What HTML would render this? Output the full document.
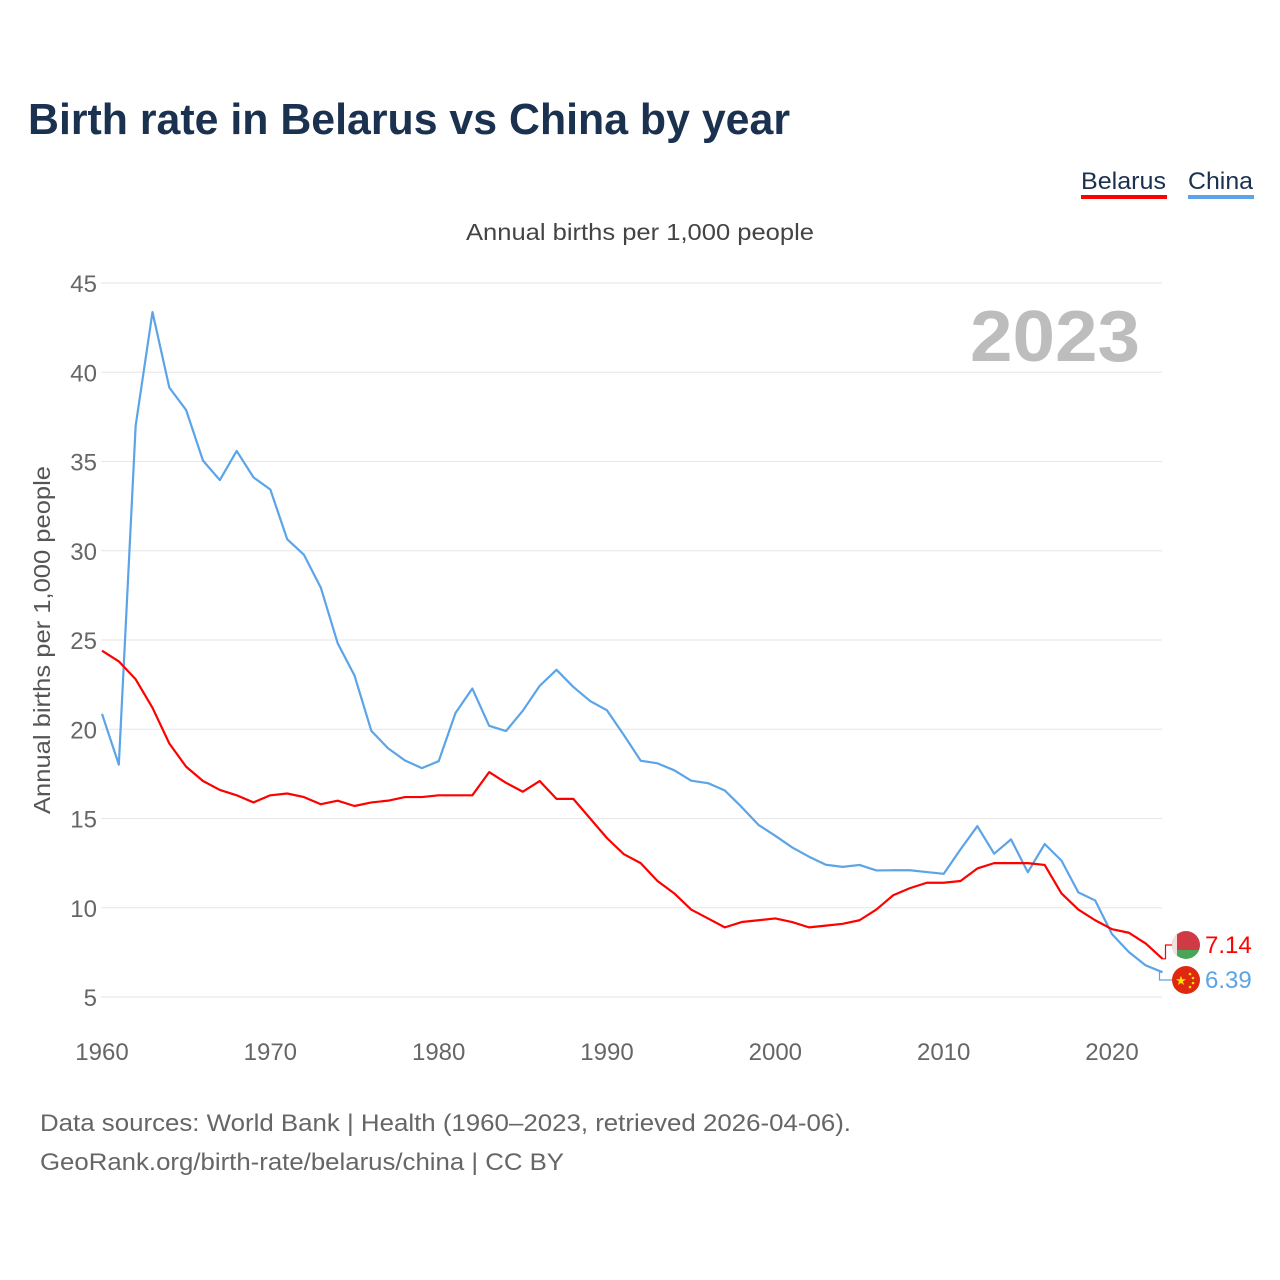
<!DOCTYPE html>
<html><head><meta charset="utf-8"><style>
html,body{margin:0;padding:0;background:#fff;width:1280px;height:1280px;overflow:hidden}
svg{display:block;font-family:"Liberation Sans",sans-serif}
</style></head><body>
<svg id="chart" width="1280" height="1280">
<text x="28" y="134" font-size="44" font-weight="bold" fill="#1a3150" textLength="762" lengthAdjust="spacingAndGlyphs">Birth rate in Belarus vs China by year</text>
<g>
<text x="1081" y="189" font-size="24" fill="#1a3150" textLength="85" lengthAdjust="spacingAndGlyphs">Belarus</text>
<rect x="1081" y="195" width="86" height="4" fill="#ff0000"/>
<text x="1188" y="189" font-size="24" fill="#1a3150" textLength="65" lengthAdjust="spacingAndGlyphs">China</text>
<rect x="1188" y="195" width="66" height="4" fill="#5ba4e8"/>
</g>
<text x="640" y="240" font-size="23" fill="#444" text-anchor="middle" textLength="348" lengthAdjust="spacingAndGlyphs">Annual births per 1,000 people</text>
<text x="1140" y="361" font-size="72" font-weight="bold" fill="#bdbdbd" text-anchor="end" textLength="170" lengthAdjust="spacingAndGlyphs">2023</text>
<text transform="translate(50,640) rotate(-90)" font-size="23" fill="#555" text-anchor="middle" textLength="348" lengthAdjust="spacingAndGlyphs">Annual births per 1,000 people</text>
<g id="grid"></g><g id="yticks"></g><g id="xticks"></g><g id="lines"></g><g id="ends"></g>
<text x="40" y="1131" font-size="24" fill="#666" textLength="811" lengthAdjust="spacingAndGlyphs">Data sources: World Bank | Health (1960–2023, retrieved 2026-04-06).</text>
<text x="40" y="1170" font-size="24" fill="#666" textLength="524" lengthAdjust="spacingAndGlyphs">GeoRank.org/birth-rate/belarus/china | CC BY</text>
</svg>
<script>
const years=[];for(let y=1960;y<=2023;y++)years.push(y);
const belarus=[24.4,23.8,22.8,21.2,19.2,17.9,17.1,16.6,16.3,15.9,16.3,16.4,16.2,15.8,16.0,15.7,15.9,16.0,16.2,16.2,16.3,16.3,16.3,17.6,17.0,16.5,17.1,16.1,16.1,15.0,13.9,13.0,12.5,11.5,10.8,9.9,9.4,8.9,9.2,9.3,9.4,9.2,8.9,9.0,9.1,9.3,9.9,10.7,11.1,11.4,11.4,11.5,12.2,12.5,12.5,12.5,12.4,10.8,9.9,9.3,8.8,8.6,8.0,7.14];
const china=[20.86,18.02,37.01,43.37,39.14,37.88,35.05,33.96,35.59,34.11,33.43,30.65,29.77,27.93,24.82,23.01,19.91,18.93,18.25,17.82,18.21,20.91,22.28,20.19,19.9,21.04,22.43,23.33,22.37,21.58,21.06,19.68,18.24,18.09,17.7,17.12,16.98,16.57,15.64,14.64,14.03,13.38,12.86,12.41,12.29,12.4,12.09,12.1,12.1,12.0,11.9,13.27,14.57,13.03,13.83,11.99,13.57,12.64,10.86,10.41,8.52,7.52,6.77,6.39];
const yTicks=[5,10,15,20,25,30,35,40,45];
const xTicks=[1960,1970,1980,1990,2000,2010,2020];
const NS="http://www.w3.org/2000/svg";
const X=y=>102+(y-1960)*(1010/60);
const Y=v=>997-(v-5)*(714/40);
function mk(t,a,p){const e=document.createElementNS(NS,t);for(const k in a)e.setAttribute(k,a[k]);document.getElementById(p).appendChild(e);return e;}
yTicks.forEach(v=>{
 const l=mk('line',{x1:101,x2:1162,y1:Y(v),y2:Y(v),stroke:'#e6e6e6','stroke-width':1},'grid');
 
 
 const t=mk('text',{x:97,y:Y(v)+9,'font-size':24,fill:'#666','text-anchor':'end'},'yticks');t.textContent=v;
 
 
});
xTicks.forEach(v=>{
 const t=mk('text',{x:X(v),y:1060,'font-size':24,fill:'#666','text-anchor':'middle'},'xticks');t.textContent=v;
 
 
});
function line(d,c,n){
 const p=mk('polyline',{points:d.map((v,i)=>X(years[i])+','+Y(v)).join(' '),fill:'none',stroke:c,'stroke-width':2.2,'stroke-linejoin':'round'},'lines');
 
 
}
line(china,'#5ba4e8','china-line');
line(belarus,'#ff0000','belarus-line');
const ex=X(2023);
const bY=Y(belarus[63]),cY=Y(china[63]);
const fb=945,fc=980;
let c1=mk('polyline',{points:`${ex},${bY} ${ex+3},${bY} ${ex+3},${fb} ${ex+10},${fb}`,fill:'none',stroke:'#ff0000','stroke-width':1.2},'ends');


let c2=mk('polyline',{points:`${ex},${cY} ${ex-3},${cY} ${ex-3},${fc} ${ex+10},${fc}`,fill:'none',stroke:'#5ba4e8','stroke-width':1.2},'ends');


const ends=document.getElementById('ends');
ends.insertAdjacentHTML('beforeend',`
<g>
<clipPath id="cb"><circle cx="1186" cy="${fb}" r="14"/></clipPath>
<g clip-path="url(#cb)"><rect x="1172" y="${fb-14}" width="28" height="19" fill="#cf3a45"/><rect x="1172" y="${fb+5}" width="28" height="10" fill="#4aa657"/><rect x="1172" y="${fb-14}" width="5" height="28" fill="#f3e0e0"/></g></g>
<g>
<circle cx="1186" cy="${fc}" r="14" fill="#de2910"/>
<text x="1181" y="${fc+5}" font-size="13" fill="#ffde00" text-anchor="middle">★</text>
<circle cx="1190" cy="${fc-6}" r="1.3" fill="#ffde00"/><circle cx="1193" cy="${fc-2}" r="1.3" fill="#ffde00"/><circle cx="1193" cy="${fc+3}" r="1.3" fill="#ffde00"/><circle cx="1190" cy="${fc+7}" r="1.3" fill="#ffde00"/></g>
<text x="1205" y="${fb+8}" font-size="24" fill="#ff0000">${belarus[63]}</text>
<text x="1205" y="${fc+8}" font-size="24" fill="#5ba4e8">${china[63]}</text>`);
</script>
</body></html>
